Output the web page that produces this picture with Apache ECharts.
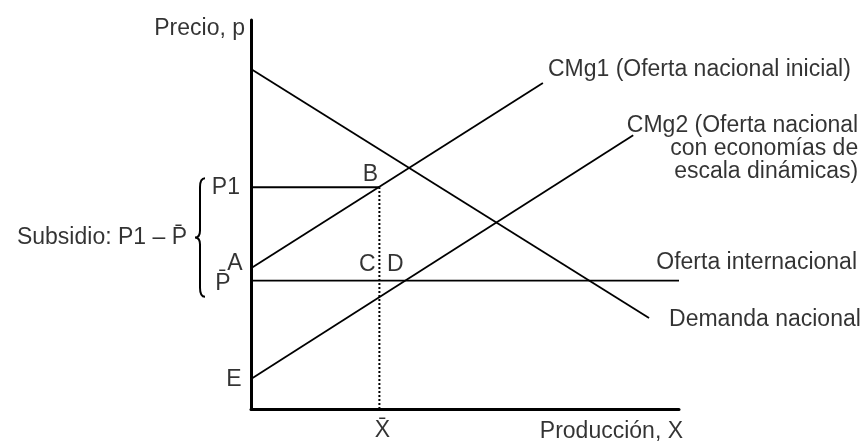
<!DOCTYPE html>
<html>
<head>
<meta charset="utf-8">
<script src="https://cdn.jsdelivr.net/npm/echarts@6/dist/echarts.min.js"></script>
<style>
html,body{margin:0;padding:0;background:#fff;}
#chart{width:862px;height:441px;}
</style>
</head>
<body>
<div id="chart"></div>
<script>
// ---- data (axis units: x 0-100, y 0-100) ----
const demanda    = [[0, 87.4], [93, 23.4]];
const cmg1       = [[0, 36.2], [68.2, 83.8]];
const cmg2       = [[0, 7.7], [89.3, 70.4]];
const ofertaInt  = [[0, 33], [100, 33]];
const p1Line     = [[0, 57], [30, 57]];
const xBarLine   = [[30, 0], [30, 57]];
const subsidio   = [[0, 57, 33]];
// labels: [x, y, text, dx, dy, align]
const etiquetas = [
  [0, 100, 'Precio, p', -6, 9, 'right'],
  [0, 57, 'P1', -11, 0, 'right'],
  [30, 57, 'B', -9, -13, 'center'],
  [0, 36.2, 'A', -16, -5, 'center'],
  [0, 33, 'P\u0304', -28, 3, 'center'],
  [30, 33, 'C', -12, -16, 'center'],
  [30, 33, 'D', 16, -16, 'center'],
  [0, 7.7, 'E', -17, 1, 'center'],
  [30, 0, 'X\u0304', 3, 22, 'center'],
  [100, 0, 'Producción, X', 4, 23, 'right'],
  [100, 33, 'Oferta internacional', 178, -18, 'right'],
  [93, 23.4, 'Demanda nacional', 20, 2, 'left'],
  [68.2, 83.8, 'CMg1 (Oferta nacional inicial)', 5, -13, 'left'],
  [89.3, 70.4, 'CMg2 (Oferta nacional\ncon economías de\nescala dinámicas)', 225, 14, 'right'],
  [0, 45, 'Subsidio: P1 \u2013 P\u0304', -64, 4, 'right']
];

const FONT = "'Liberation Sans', Arial, Helvetica, sans-serif";
const FS = 23;

function lineSeries(name, data, extra) {
  return Object.assign({
    name: name, type: 'line', data: data, showSymbol: false, silent: true,
    lineStyle: {color: '#000', width: 1.8}, animation: false
  }, extra || {});
}

const chart = echarts.init(document.getElementById('chart'), null, {renderer: 'canvas'});
chart.setOption({
  backgroundColor: '#fff',
  animation: false,
  grid: {left: 251, right: 183, top: 20, bottom: 32},
  xAxis: {
    type: 'value', min: 0, max: 100,
    axisLine: {show: true, onZero: false, lineStyle: {color: '#000', width: 3}},
    axisTick: {show: false}, axisLabel: {show: false}, splitLine: {show: false}
  },
  yAxis: {
    type: 'value', min: 0, max: 100,
    axisLine: {show: true, onZero: false, lineStyle: {color: '#000', width: 3}},
    axisTick: {show: false}, axisLabel: {show: false}, splitLine: {show: false}
  },
  series: [
    lineSeries('Demanda nacional', demanda),
    lineSeries('CMg1', cmg1),
    lineSeries('CMg2', cmg2),
    lineSeries('Oferta internacional', ofertaInt),
    lineSeries('P1', p1Line),
    lineSeries('Xbar', xBarLine, {lineStyle: {color: '#000', width: 2, type: [2, 2]}}),
    {
      type: 'custom', silent: true, data: subsidio,
      renderItem: function (params, api) {
        const top = api.coord([api.value(0), api.value(1)]);
        const bot = api.coord([api.value(0), api.value(2)]);
        const ax = top[0];
        const t = top[1] - 9, b = bot[1] + 16, m = (t + b) / 2;
        const xr = ax - 46, xm = ax - 51, xl = ax - 56;
        const path = 'M' + xr + ' ' + t + ' Q' + xm + ' ' + t + ' ' + xm + ' ' + (t + 9) +
          ' L' + xm + ' ' + (m - 7) + ' Q' + xm + ' ' + m + ' ' + xl + ' ' + m +
          ' Q' + xm + ' ' + m + ' ' + xm + ' ' + (m + 7) +
          ' L' + xm + ' ' + (b - 9) + ' Q' + xm + ' ' + b + ' ' + xr + ' ' + b;
        return {
          type: 'path',
          shape: {pathData: path},
          style: {fill: null, stroke: '#000', lineWidth: 2}
        };
      }
    },
    {
      type: 'scatter', silent: true, symbolSize: 0,
      data: etiquetas.map(function (e) {
        return {
          value: [e[0], e[1]],
          label: {
            show: true, formatter: e[2], position: [e[3], e[4]],
            align: e[5], verticalAlign: 'middle',
            fontFamily: FONT, fontSize: FS, color: '#000', lineHeight: 23
          }
        };
      })
    }
  ]
});
</script>
</body>
</html>
